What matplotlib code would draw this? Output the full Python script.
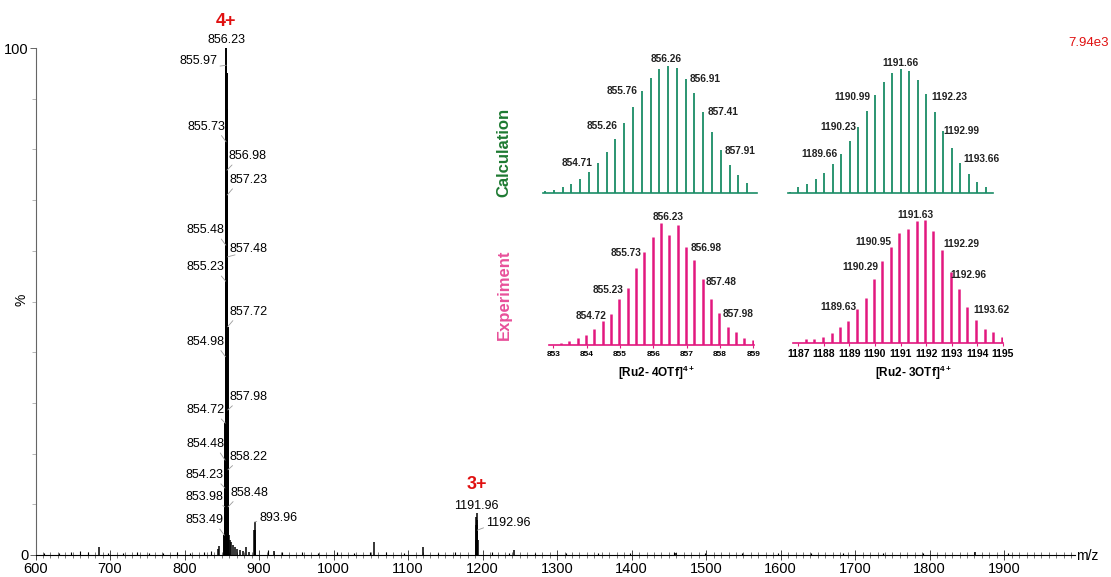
import matplotlib.pyplot as plt

plt.rcParams['font.family'] = ['Liberation Sans', 'DejaVu Sans']
plt.rcParams['mathtext.fontset'] = 'custom'
plt.rcParams['mathtext.rm'] = 'Liberation Sans'
plt.rcParams['mathtext.bf'] = 'Liberation Sans:bold'

W, H = 1111, 577

# ---- full spectrum, % of base peak (7.94e3) ----
iso4_mz = [853.49, 853.73, 853.98, 854.23, 854.48, 854.72, 854.98, 855.23, 855.48, 855.73, 855.97,
           856.23, 856.48, 856.73, 856.98, 857.23, 857.48, 857.72, 857.98, 858.22, 858.48, 858.73]
iso4_int = [3.9, 6.0, 9.5, 13.2, 18.7, 26.0, 39.1, 54.0, 61.1, 81.5, 96.6,
            100, 95.0, 88.0, 75.9, 71.0, 58.8, 45.0, 28.6, 16.8, 9.5, 5.0]

iso3_mz = [1190.96, 1191.29, 1191.63, 1191.96, 1192.29, 1192.63, 1192.96, 1193.29]
iso3_int = [3.0, 6.0, 7.5, 8.3, 7.0, 6.0, 4.9, 3.0]

peak_mz = [684.9, 844.5, 846.0, 859.5, 861, 863, 865, 868, 871, 875, 879, 882, 886,
           893.71, 893.96, 894.21, 894.46, 920, 1054, 1120.5, 1241.5, 1460, 1861]
peak_int = [1.6, 1.2, 1.8, 4.0, 3.0, 2.5, 2.0, 1.5, 1.2, 1.0, 0.8, 1.5, 0.6,
            5.0, 6.5, 5.0, 3.0, 0.7, 2.5, 1.5, 0.9, 0.4, 0.6]

noise_mz = [612, 631, 648, 660, 671, 697, 718, 736, 752, 771, 790, 808, 826, 835, 912, 931, 958, 979,
            1004, 1027, 1049, 1071, 1095, 1140, 1163, 1213, 1236, 1270, 1312, 1355, 1398, 1457, 1499,
            1548, 1597, 1641, 1683, 1738, 1791, 1905]
noise_int = [0.4, 0.3, 0.5, 0.8, 0.5, 0.4, 0.3, 0.5, 0.4, 0.3, 0.6, 0.4, 0.5, 0.7, 0.9, 0.6, 0.5, 0.4,
             0.5, 0.4, 0.6, 0.5, 0.4, 0.4, 0.5, 0.6, 0.4, 0.3, 0.4, 0.3, 0.4, 0.6, 0.3,
             0.3, 0.3, 0.3, 0.4, 0.3, 0.3, 0.3]

lab_left = ['855.97', '855.73', '855.48', '855.23', '854.98', '854.72', '854.48', '854.23', '853.98', '853.49']
lab_right = ['856.98', '857.23', '857.48', '857.72', '857.98', '858.22', '858.48']

# ---- zoomed isotope patterns (%) ----
calc4_mz = [853.01, 853.26, 853.51, 853.76, 854.01, 854.26, 854.51, 854.76, 855.01, 855.26, 855.51, 855.76,
            856.01, 856.26, 856.51, 856.76, 857.01, 857.26, 857.51, 857.76, 858.01, 858.26, 858.51, 858.76]
calc4_int = [1.3, 2.6, 4.7, 7.3, 11.3, 16.3, 23.6, 32.3, 42.8, 54.6, 67.7, 80.1,
             90.6, 97.4, 100, 98.2, 89.5, 78.2, 63.8, 47.8, 33.6, 22.3, 13.9, 7.9]
calc4_lab = ['854.71', '855.26', '855.76', '856.26', '856.91', '857.41', '857.91']

calc3_mz = [1187.33, 1187.66, 1188.00, 1188.33, 1188.66, 1189.00, 1189.33, 1189.66, 1190.00, 1190.33,
            1190.66, 1191.00, 1191.33, 1191.66, 1192.00, 1192.33, 1192.66, 1193.00, 1193.33, 1193.66,
            1194.00, 1194.33, 1194.66, 1195.00]
calc3_int = [0.8, 4.9, 7.0, 10.8, 16.2, 22.9, 31.3, 42.0, 52.8, 66.3, 79.0, 89.8, 97.0, 100,
             98.4, 91.1, 79.5, 65.5, 50.1, 35.8, 23.7, 14.8, 8.9, 4.9]
calc3_lab = ['1189.66', '1190.23', '1190.99', '1191.66', '1192.23', '1192.99', '1193.66']

exp4_mz = [853.23, 853.48, 853.73, 853.98, 854.23, 854.48, 854.72, 854.98, 855.23, 855.48, 855.73, 855.98,
           856.23, 856.48, 856.73, 856.98, 857.23, 857.48, 857.72, 857.98, 858.23, 858.48, 858.73, 858.98]
exp4_int = [1.9, 3.3, 5.4, 8.4, 12.8, 19.6, 25.1, 37.6, 46.9, 62.7, 76.3, 88.0,
            100, 90.2, 98.1, 80.1, 69.5, 54.0, 37.6, 25.9, 15.0, 10.4, 6.0, 4.1]
exp4_lab = ['854.72', '855.23', '855.73', '856.23', '856.98', '857.48', '857.98']
exp4_ticks = [853, 854, 855, 856, 857, 858, 859]

exp3_mz = [1187.30, 1187.63, 1187.96, 1188.30, 1188.63, 1188.96, 1189.30, 1189.63, 1189.96, 1190.29,
           1190.63, 1190.95, 1191.29, 1191.63, 1191.96, 1192.29, 1192.63, 1192.96, 1193.29, 1193.62,
           1193.96, 1194.29, 1194.62, 1194.96]
exp3_int = [3.2, 3.8, 5.4, 8.6, 13.0, 18.4, 27.6, 37.0, 52.2, 67.0, 78.4, 89.2, 92.4, 99.5,
            100, 91.1, 75.7, 58.1, 43.8, 29.2, 18.9, 11.6, 8.9, 5.1]
exp3_lab = ['1189.63', '1190.29', '1190.95', '1191.63', '1192.29', '1192.96', '1193.62']
exp3_ticks = [1187, 1188, 1189, 1190, 1191, 1192, 1193, 1194, 1195]

GREEN = '#1a8c66'
GREEN_TXT = '#1e7a32'
PINK = '#e2187f'
PINK_TXT = '#e8509a'
RED = '#e01010'


def box(left, base, width, height):
    # pixel box measured from the top-left, with its baseline y
    return [left / W, 1 - base / H, width / W, height / H]


fig = plt.figure(figsize=(W / 100, H / 100), dpi=100)

# ---------------- main spectrum ----------------
ax = fig.add_axes(box(35.5, 555, 1039.5, 507))
ax.vlines(noise_mz, 0, noise_int, color='black', lw=0.8)
ax.vlines(peak_mz, 0, peak_int, color='black', lw=1.1)
ax.vlines(iso3_mz, 0, iso3_int, color='black', lw=1.1)
ax.vlines(iso4_mz, 0, iso4_int, color='black', lw=1.4)
ax.set_xlim(600, 1995)
ax.set_ylim(0, 100)

for s in ['top', 'right']:
    ax.spines[s].set_visible(False)
ax.spines['left'].set_color('#666666')
ax.spines['left'].set_linewidth(0.8)
ax.spines['bottom'].set_linewidth(0.8)

ax.set_xticks(range(600, 2000, 100))
ax.set_xticks(range(600, 1996, 10), minor=True)
ax.set_yticks([0, 100])
ax.set_yticks(range(10, 100, 10), minor=True)
ax.tick_params(axis='x', which='major', direction='inout', length=7, width=0.7,
               labelsize=10.5, pad=1.5, color='#444444')
ax.tick_params(axis='x', which='minor', direction='inout', length=4, width=0.5, color='#444444')
ax.tick_params(axis='y', which='major', direction='out', length=4, width=0.7,
               labelsize=10.5, pad=1, color='#666666')
ax.tick_params(axis='y', which='minor', direction='out', length=3, width=0.5, color='#999999')

height4 = dict(zip(['%.2f' % m for m in iso4_mz], iso4_int))
left_dx = [-9, -1, -1, -1, -1, -1, -1, -1, -1, -1]
left_dy = [4, 15, 15, 14, 15, 13, 16, 13, 10, 15]
right_dy = [14, 15, 8, 15, 13, 13, 14]
lead = dict(arrowstyle='-', color='#9a9a9a', lw=0.6, shrinkA=0, shrinkB=0)

for t, dx, dy in zip(lab_left, left_dx, left_dy):
    ax.annotate(t, xy=(float(t), height4[t]), xytext=(dx, dy), textcoords='offset pixels',
                ha='right', va='center', fontsize=9, arrowprops=dict(lead, relpos=(0.85, 0)))
for t, dy in zip(lab_right, right_dy):
    ax.annotate(t, xy=(float(t), height4[t]), xytext=(2, dy), textcoords='offset pixels',
                ha='left', va='center', fontsize=9, arrowprops=dict(lead, relpos=(0.15, 0)))

ax.annotate('856.23', xy=(856.23, 100), xytext=(0, 8), textcoords='offset pixels',
            ha='center', va='center', fontsize=9)
ax.annotate('893.96', xy=(893.96, 6.5), xytext=(5, 4), textcoords='offset pixels',
            ha='left', va='center', fontsize=9, arrowprops=dict(lead, relpos=(0, 0.3)))
ax.annotate('1191.96', xy=(1191.96, 8.3), xytext=(0, 7), textcoords='offset pixels',
            ha='center', va='center', fontsize=9)
ax.annotate('1192.96', xy=(1192.96, 4.9), xytext=(9, 7), textcoords='offset pixels',
            ha='left', va='center', fontsize=9, arrowprops=dict(lead, relpos=(0, 0.2)))

ax.annotate('4+', xy=(856.23, 100), xytext=(0, 26), textcoords='offset pixels',
            ha='center', va='center', fontsize=13, fontweight='bold', color=RED)
ax.annotate('3+', xy=(1191.96, 8.3), xytext=(0, 28), textcoords='offset pixels',
            ha='center', va='center', fontsize=13, fontweight='bold', color=RED)

fig.text(1089 / W, 1 - 43 / H, '7.94e3', color=RED, fontsize=9.5, ha='center', va='center')
fig.text(1087 / W, 1 - 556 / H, 'm/z', fontsize=10, ha='center', va='center')
fig.text(22 / W, 1 - 300 / H, '%', fontsize=10, ha='center', va='center', rotation=90)


# ---------------- isotope pattern insets ----------------
def inset(rect, xlim, mz, inten, color, labels, lab_x, lab_y, lw, ticks=None, ticksize=6):
    a = fig.add_axes(rect)
    a.patch.set_alpha(0)
    a.vlines(mz, 0, inten, color=color, lw=lw)
    a.set_xlim(xlim)
    a.set_ylim(0, 100)
    for s in ['top', 'right', 'left']:
        a.spines[s].set_visible(False)
    a.spines['bottom'].set_color(color)
    a.spines['bottom'].set_linewidth(1.2)
    a.set_yticks([])
    if ticks:
        a.set_xticks(ticks)
        a.tick_params(axis='x', length=2, width=0.8, color=color, labelsize=ticksize, pad=2)
        for lab in a.get_xticklabels():
            lab.set_fontweight('bold')
    else:
        a.set_xticks([])
    for t, x, y in zip(labels, lab_x, lab_y):
        a.text(x, y, t, ha='center', va='center', fontsize=7.3, fontweight='bold',
               color='#222222', clip_on=False)
    return a


inset(box(543.3, 193, 213.4, 127.3), (852.96, 859.03), calc4_mz, calc4_int, GREEN, calc4_lab,
      [853.93, 854.62, 855.19, 856.45, 857.56, 858.07, 858.56],
      [23.8, 52.6, 80.4, 105.3, 89.6, 63.9, 33.2], lw=1.3)
inset(box(788, 192.7, 205, 123.7), (1187.25, 1195.28), calc3_mz, calc3_int, GREEN, calc3_lab,
      [1188.48, 1189.22, 1189.79, 1191.64, 1193.57, 1194.06, 1194.81],
      [31.0, 52.9, 77.6, 105.1, 77.6, 50.1, 27.0], lw=1.3)
inset(box(549, 345, 205.3, 122.3), (852.87, 859.03), exp4_mz, exp4_int, PINK, exp4_lab,
      [854.13, 854.65, 855.18, 856.43, 857.58, 858.03, 858.55],
      [24.0, 45.0, 75.0, 104.4, 79.1, 51.8, 25.3], lw=1.8, ticks=exp4_ticks, ticksize=6)
inset(box(793.3, 343.3, 209.4, 123.3), (1186.80, 1195.0), exp3_mz, exp3_int, PINK, exp3_lab,
      [1188.56, 1189.41, 1189.93, 1191.57, 1193.40, 1193.66, 1194.57],
      [29.2, 62.1, 82.4, 104.1, 80.5, 55.4, 27.0], lw=1.8, ticks=exp3_ticks, ticksize=7.5)

fig.text(656.7 / W, 1 - 373 / H, r'[Ru2- 4OTf]$^{\mathbf{4+}}$', fontsize=8.5, fontweight='bold',
         ha='center', va='center')
fig.text(913.3 / W, 1 - 373.3 / H, r'[Ru2- 3OTf]$^{\mathbf{4+}}$', fontsize=8.5, fontweight='bold',
         ha='center', va='center')

fig.text(504 / W, 1 - 152 / H, 'Calculation', color=GREEN_TXT, fontsize=12, fontweight='bold',
         rotation=90, ha='center', va='center')
fig.text(504 / W, 1 - 295 / H, 'Experiment', color=PINK_TXT, fontsize=12, fontweight='bold',
         rotation=90, ha='center', va='center')

fig.savefig('out.png', dpi=100)
